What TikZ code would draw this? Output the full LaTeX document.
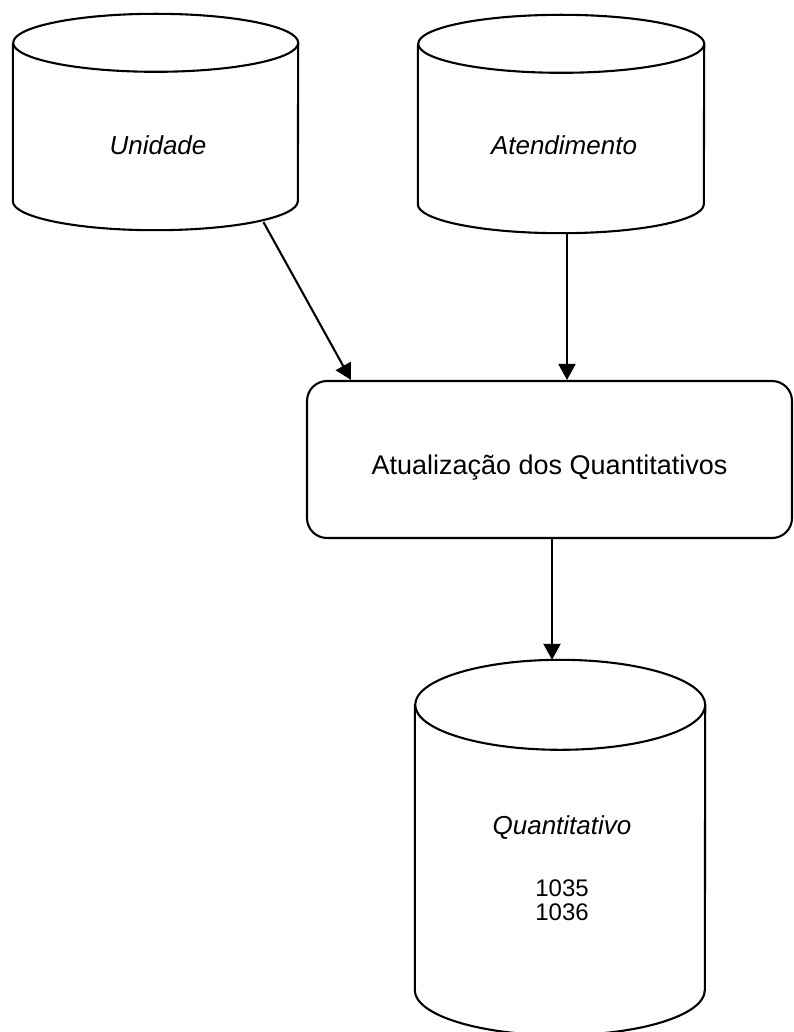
\documentclass[tikz,border=0pt]{standalone}
\usepackage{fontspec}
\setmainfont{Liberation Sans}
\usetikzlibrary{arrows.meta,calc}

% Outline of a database cylinder around an (invisible) node:
% #1 node name, #2 horizontal radius, #3 vertical radius of the end ellipses
\newcommand{\drawdb}[3]{%
  \draw[ln] ([yshift=-#3]#1.north west) -- ([yshift=#3]#1.south west)
    arc[start angle=180, end angle=360, x radius=#2, y radius=#3]
    -- ([yshift=-#3]#1.north east)
    arc[start angle=0, end angle=360, x radius=#2, y radius=#3];}

\begin{document}
\begin{tikzpicture}[x=1pt, y=-1pt,
  ln/.style={line width=2.1pt, line join=round},
  vol/.style={draw=none, inner sep=0pt, minimum width=#1},
  lbl/.style={font=\fontsize{26}{26}\selectfont\itshape, inner sep=0pt},
  num/.style={font=\fontsize{24}{24}\selectfont, align=center, inner sep=0pt},
  arr/.style={ln, -{Triangle[width=17pt, length=16pt]}},
  procbox/.style={ln, draw, rounded corners=20pt, minimum width=485pt,
    minimum height=157pt, inner sep=0pt, font=\fontsize{27}{27}\selectfont,
    text height=36pt, text depth=5.6pt}
]
\useasboundingbox (0,0) rectangle (794,1032);
\clip (0,0) rectangle (794,1032);

% data stores
\node[vol=285pt, minimum height=216pt,
      label={[lbl, xshift=2.5pt, yshift=-23pt]center:Unidade}] (unidade) at (155.5,122) {};
\node[vol=286pt, minimum height=218pt,
      label={[lbl, xshift=3pt, yshift=-21pt]center:Atendimento}] (atend) at (561,124) {};
\node[vol=290pt, minimum height=375pt] (quant) at (560,847.5) {};
\drawdb{unidade}{142.5pt}{29pt}
\drawdb{atend}{143pt}{29pt}
\drawdb{quant}{145pt}{45pt}
\node[lbl, anchor=base] (quanttitle) at (562,834) {Quantitativo};
\node[num] (quantnums) at (562,900) {1035\\1036};

% process
\node[procbox] (proc) at (549.5,459.5) {Atualização dos Quantitativos};

% flows
\draw[arr] ($(unidade.south)+(108,-8)$) -- ($(proc.north west)+(45,0)$);
\draw[arr] ($(atend.south)+(6,0)$) -- ($(proc.north)+(17.5,0)$);
\draw[arr] ($(proc.south)+(2.5,0)$) -- ($(quant.north)+(-8,0)$);
\end{tikzpicture}
\end{document}
